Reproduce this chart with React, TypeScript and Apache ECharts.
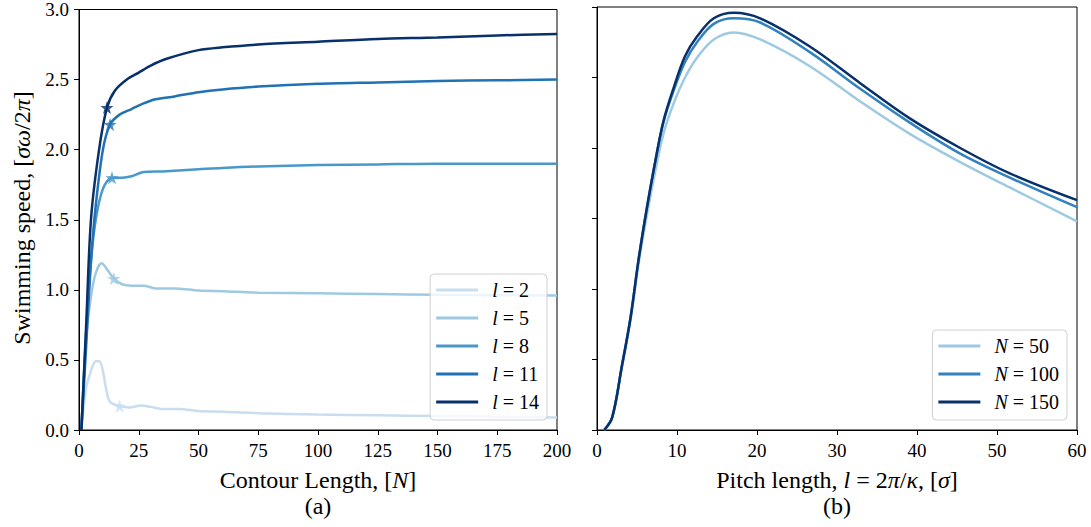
import React, { useEffect, useRef } from "react";
import * as echarts from "echarts";

// ---- Panel (a): swimming speed vs contour length ----
const leftNames = ["l = 2", "l = 5", "l = 8", "l = 11", "l = 14"];
const leftColors = ["#c9ddf0", "#9ecae1", "#4a98c9", "#2171b5", "#08306b"];
const l2X = [1, 3, 5, 7, 8.5, 10, 11.5, 13, 17, 21, 26, 30, 35, 42, 50, 60, 75, 100, 125, 150, 175, 200];
const l2Y = [0, 0.3, 0.42, 0.49, 0.49, 0.42, 0.28, 0.2, 0.17, 0.16, 0.175, 0.165, 0.15, 0.15, 0.135, 0.13, 0.12, 0.11, 0.105, 0.1, 0.095, 0.09];
const l5X = [1, 3, 5, 7, 9.5, 12, 14.6, 18, 22, 27, 32, 40, 50, 60, 75, 100, 125, 150, 175, 200];
const l5Y = [0, 0.65, 0.95, 1.12, 1.19, 1.14, 1.08, 1.04, 1.03, 1.03, 1.01, 1.01, 0.995, 0.99, 0.98, 0.975, 0.97, 0.965, 0.962, 0.96];
const l8X = [1, 3, 5, 7, 10, 13.8, 18, 22, 27, 35, 40, 50, 60, 75, 100, 125, 150, 175, 200];
const l8Y = [0, 0.7, 1.2, 1.5, 1.72, 1.8, 1.8, 1.81, 1.84, 1.845, 1.85, 1.86, 1.87, 1.88, 1.89, 1.895, 1.9, 1.9, 1.9];
const l11X = [1, 3, 5, 7, 10, 13, 17, 22, 27, 32, 40, 50, 60, 75, 100, 125, 150, 175, 200];
const l11Y = [0, 0.6, 1.2, 1.6, 2.0, 2.18, 2.25, 2.29, 2.33, 2.36, 2.38, 2.41, 2.43, 2.45, 2.47, 2.48, 2.49, 2.495, 2.5];
const l14X = [1, 3, 5, 8.4, 11.7, 15, 20, 25, 30, 37, 50, 60, 75, 100, 125, 150, 175, 200];
const l14Y = [0, 0.75, 1.5, 2.0, 2.3, 2.42, 2.5, 2.55, 2.6, 2.65, 2.71, 2.73, 2.75, 2.77, 2.79, 2.8, 2.815, 2.825];
const starX = [17, 14.6, 13.8, 13, 11.7];
const starY = [0.17, 1.08, 1.8, 2.18, 2.3];

// ---- Panel (b): swimming speed vs pitch length ----
const rightNames = ["N = 50", "N = 100", "N = 150"];
const rightColors = ["#9ecae1", "#3282bd", "#08306b"];
const pitchX = [0.9, 1.9, 3.1, 4.2, 5.2, 6.25, 7.3, 8.3, 9.6, 11, 12.5, 14.6, 17.1, 20.4, 26.6, 32.9, 39.1, 45.4, 51.6, 60];
const n50Y = [0, 0.09, 0.44, 0.78, 1.18, 1.53, 1.84, 2.1, 2.32, 2.5, 2.64, 2.77, 2.82, 2.77, 2.58, 2.33, 2.1, 1.9, 1.72, 1.48];
const n100Y = [0, 0.09, 0.45, 0.8, 1.21, 1.58, 1.91, 2.18, 2.41, 2.61, 2.75, 2.88, 2.92, 2.89, 2.68, 2.42, 2.18, 1.96, 1.79, 1.58];
const n150Y = [0, 0.09, 0.45, 0.8, 1.21, 1.58, 1.91, 2.19, 2.43, 2.65, 2.79, 2.92, 2.96, 2.92, 2.72, 2.46, 2.21, 2.0, 1.82, 1.63];

const xTicksLeft = { min: 0, max: 200, interval: 25 };
const xTicksRight = { min: 0, max: 60, interval: 10 };
const yTicks = { min: 0, max: 3, interval: 0.5 };

const STAR = "path://M0,-10 L2.35,-3.24 9.51,-3.09 3.8,1.24 5.88,8.09 0,4 -5.88,8.09 -3.8,1.24 -9.51,-3.09 -2.35,-3.24Z";
const FONT = "Liberation Serif";

function zip(xs: number[], ys: number[]) {
  return xs.map((x, i) => [x, ys[i]]);
}

export default function App() {
  const ref = useRef<HTMLDivElement>(null);
  useEffect(() => {
    document.body.style.margin = "0";
    const chart = echarts.init(ref.current!, null, { renderer: "svg" });
    const leftData = [zip(l2X, l2Y), zip(l5X, l5Y), zip(l8X, l8Y), zip(l11X, l11Y), zip(l14X, l14Y)];
    const rightData = [zip(pitchX, n50Y), zip(pitchX, n100Y), zip(pitchX, n150Y)];
    const series: any[] = [];
    leftData.forEach((d, i) => {
      series.push({
        type: "line", name: leftNames[i], xAxisIndex: 0, yAxisIndex: 0, data: d,
        smooth: 0.3, showSymbol: false, symbol: "none",
        lineStyle: { color: leftColors[i], width: 2.5 }, itemStyle: { color: leftColors[i] }, z: 2 + i,
      });
    });
    starX.forEach((x, i) => {
      series.push({
        type: "scatter", name: "star" + i, xAxisIndex: 0, yAxisIndex: 0, data: [[x, starY[i]]],
        symbol: STAR, symbolSize: 13, itemStyle: { color: leftColors[i] }, z: 10,
      });
    });
    rightData.forEach((d, i) => {
      series.push({
        type: "line", name: rightNames[i], xAxisIndex: 1, yAxisIndex: 1, data: d,
        smooth: 0.35, showSymbol: false, symbol: "none",
        lineStyle: { color: rightColors[i], width: 2.5 }, itemStyle: { color: rightColors[i] }, z: 2 + i,
      });
    });
    const axisCommon = {
      axisLine: { show: true, onZero: false, lineStyle: { color: "#000", width: 1 } },
      axisTick: { show: true, inside: false, length: 5, lineStyle: { color: "#000" } },
      splitLine: { show: false },
    };
    const labelStyle = { color: "#000", fontFamily: FONT, fontSize: 19 };
    const legendCommon = {
      orient: "vertical", itemWidth: 42, itemHeight: 3, itemGap: 8, icon: "rect",
      borderColor: "#d0d0d0", borderWidth: 1, borderRadius: 4,
      backgroundColor: "rgba(255,255,255,0.8)", padding: [6, 8, 8, 6],
      textStyle: {
        color: "#000", fontFamily: FONT, fontSize: 20, lineHeight: 19, padding: [0, 0, 0, 9],
        rich: {
          i: { fontStyle: "italic", fontFamily: FONT, fontSize: 20, lineHeight: 19, color: "#000" },
          r: { fontFamily: FONT, fontSize: 20, lineHeight: 19, color: "#000" },
        },
      },
      formatter: (name: string) => {
        const [a, b] = name.split(" = ");
        return "{i|" + a + "}{r| = " + b + "}";
      },
    };
    const titleRich = {
      i: { fontStyle: "italic", fontFamily: FONT, fontSize: 24, fill: "#000" },
      r: { fontFamily: FONT, fontSize: 24, fill: "#000" },
    };
    const title = (x: number, y: number, text: string, rotation = 0) => ({
      type: "text", x, y, rotation,
      style: { text, rich: titleRich, fontFamily: FONT, fontSize: 24, fill: "#000", align: "center", verticalAlign: "middle" },
    });
    chart.setOption({
      animation: false,
      backgroundColor: "#fff",
      grid: [
        { left: 79, top: 7, width: 478, height: 423, show: true, borderColor: "#000", borderWidth: 1 },
        { left: 597, top: 7, width: 480, height: 423, show: true, borderColor: "#000", borderWidth: 1 },
      ],
      xAxis: [
        { type: "value", gridIndex: 0, ...xTicksLeft, ...axisCommon, axisLabel: { ...labelStyle, margin: 11 } },
        { type: "value", gridIndex: 1, ...xTicksRight, ...axisCommon, axisLabel: { ...labelStyle, margin: 11 } },
      ],
      yAxis: [
        { type: "value", gridIndex: 0, ...yTicks, ...axisCommon, axisLabel: { ...labelStyle, margin: 10, formatter: (v: number) => v.toFixed(1) } },
        { type: "value", gridIndex: 1, ...yTicks, ...axisCommon, axisLabel: { show: false } },
      ],
      legend: [
        { ...legendCommon, data: leftNames, right: 544, bottom: 107 },
        { ...legendCommon, data: rightNames, right: 24, bottom: 107 },
      ],
      graphic: [
        title(318, 480, "{r|Contour Length, [}{i|N}{r|]}"),
        title(318, 506, "{r|(a)}"),
        title(837, 480, "{r|Pitch length, }{i|l}{r| = 2}{i|π}{r|/}{i|κ}{r|, [}{i|σ}{r|]}"),
        title(837, 506, "{r|(b)}"),
        title(22, 218, "{r|Swimming speed, [}{i|σω}{r|/2}{i|π}{r|]}", Math.PI / 2),
      ],
      series,
    });
    return () => chart.dispose();
  }, []);
  return <div ref={ref} style={{ width: 1091, height: 527 }} />;
}
